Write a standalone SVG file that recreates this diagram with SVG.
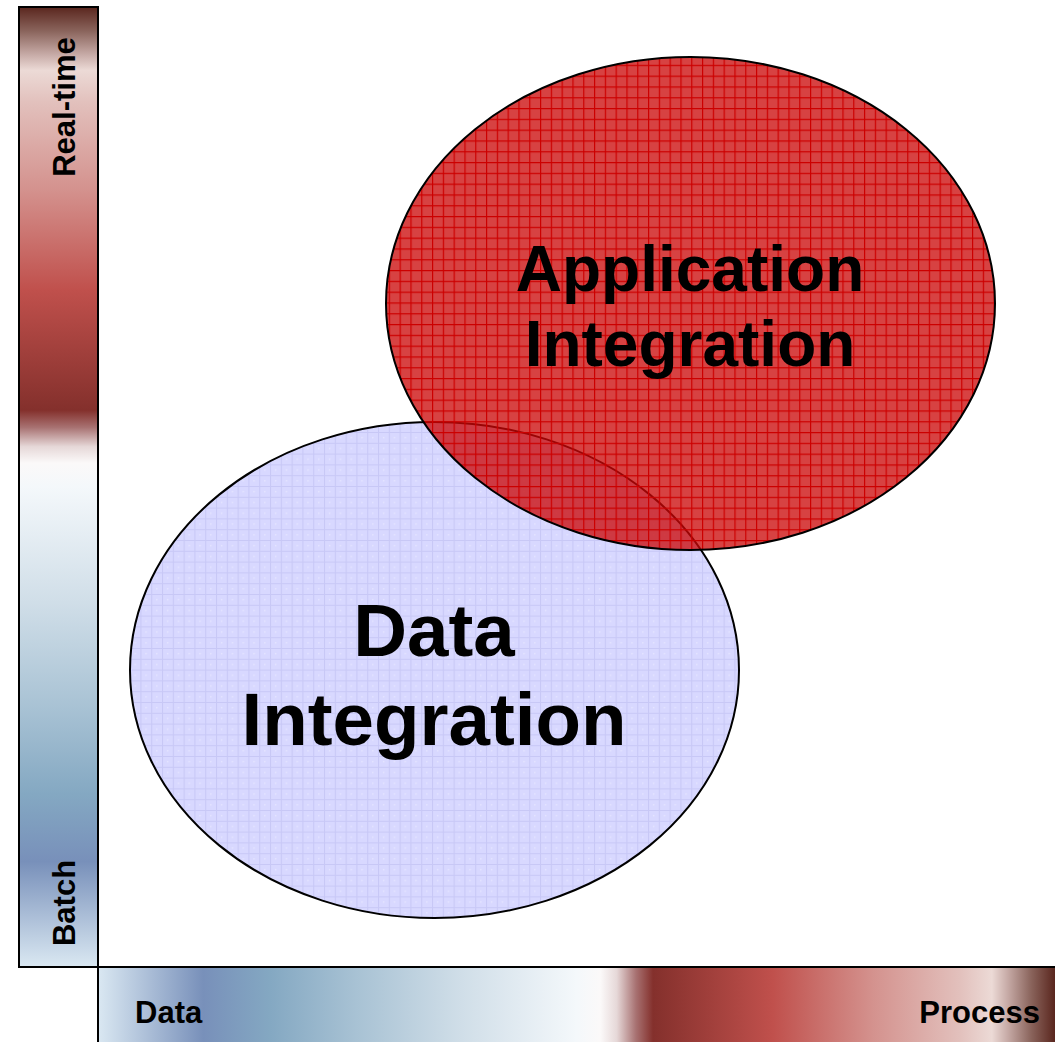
<svg xmlns="http://www.w3.org/2000/svg" xmlns:xlink="http://www.w3.org/1999/xlink" width="1055" height="1042" viewBox="0 0 1055 1042">
  <style>
    .lbl { font-family: "Liberation Sans", Arial, sans-serif; font-weight: bold; fill: #000; }
    .axis { font-size: 31px; }
    .edge { fill: none; stroke: #000; stroke-width: 2; }
    .oval { stroke: #000; stroke-width: 2; }
  </style>
  <defs>
    <!-- latency / scope scale: dark red (process, real-time) to blue (data, batch) -->
    <linearGradient id="scaleV" x1="0" y1="0" x2="0" y2="1">
      <stop offset="0" stop-color="#5a261e"/>
      <stop offset="0.025" stop-color="#8a645c"/>
      <stop offset="0.05" stop-color="#c8aca8"/>
      <stop offset="0.066" stop-color="#ecdad6"/>
      <stop offset="0.10" stop-color="#e2c0bc"/>
      <stop offset="0.19" stop-color="#d4928e"/>
      <stop offset="0.295" stop-color="#c0504c"/>
      <stop offset="0.42" stop-color="#84302c"/>
      <stop offset="0.438" stop-color="#a87272"/>
      <stop offset="0.458" stop-color="#e6d8d8"/>
      <stop offset="0.475" stop-color="#fbf9f9"/>
      <stop offset="0.50" stop-color="#f4f8fb"/>
      <stop offset="0.62" stop-color="#d0dee8"/>
      <stop offset="0.73" stop-color="#a8c2d4"/>
      <stop offset="0.82" stop-color="#84a8c2"/>
      <stop offset="0.89" stop-color="#7890ba"/>
      <stop offset="1" stop-color="#dae8f2"/>
    </linearGradient>
    <linearGradient id="scaleH" xlink:href="#scaleV" x1="1" y1="0" x2="0" y2="0"/>

    <pattern id="gridRed" patternUnits="userSpaceOnUse" width="10.8" height="10.8">
      <rect width="10.8" height="10.8" fill="#cb0707" fill-opacity="0.76"/>
      <path d="M0 0.6H10.8M0.6 0V10.8" stroke="#cc0000" stroke-width="1.2"/>
    </pattern>
    <pattern id="gridBlue" patternUnits="userSpaceOnUse" width="10.8" height="10.8">
      <rect width="10.8" height="10.8" fill="#d8d8ff"/>
      <path d="M0 0.5H10.8M0.5 0V10.8" stroke="#c8c8f6" stroke-width="1"/>
      <rect x="5.2" y="5.2" width="1" height="1" fill="#f4f4ff"/>
    </pattern>
  </defs>

  <rect width="1055" height="1042" fill="#fff"/>

  <!-- vertical axis: batch to real-time -->
  <g id="axis-latency">
    <rect x="19" y="7" width="79" height="960" fill="url(#scaleV)"/>
    <path class="edge" d="M19 967V7H98V967"/>
    <text class="lbl axis" transform="translate(75 107) rotate(-90)" text-anchor="middle">Real-time</text>
    <text class="lbl axis" transform="translate(75 903) rotate(-90)" text-anchor="middle">Batch</text>
  </g>

  <!-- horizontal axis: data to process -->
  <g id="axis-scope">
    <rect x="98" y="967" width="957" height="75" fill="url(#scaleH)"/>
    <path class="edge" d="M18 967H1055M98 967V1042"/>
    <text class="lbl axis" x="135" y="1023">Data</text>
    <text class="lbl axis" x="1040" y="1023" text-anchor="end">Process</text>
  </g>

  <g id="data-integration">
    <ellipse class="oval" cx="434.5" cy="670" rx="304.5" ry="248" fill="url(#gridBlue)"/>
    <text class="lbl" font-size="74.5" text-anchor="middle" x="434" y="656">Data</text>
    <text class="lbl" font-size="74.5" text-anchor="middle" x="434" y="745">Integration</text>
  </g>

  <g id="application-integration">
    <ellipse class="oval" cx="690.5" cy="303.5" rx="304.5" ry="246.5" fill="url(#gridRed)"/>
    <text class="lbl" font-size="64" text-anchor="middle" x="690" y="291">Application</text>
    <text class="lbl" font-size="64" text-anchor="middle" x="690" y="366">Integration</text>
  </g>
</svg>
